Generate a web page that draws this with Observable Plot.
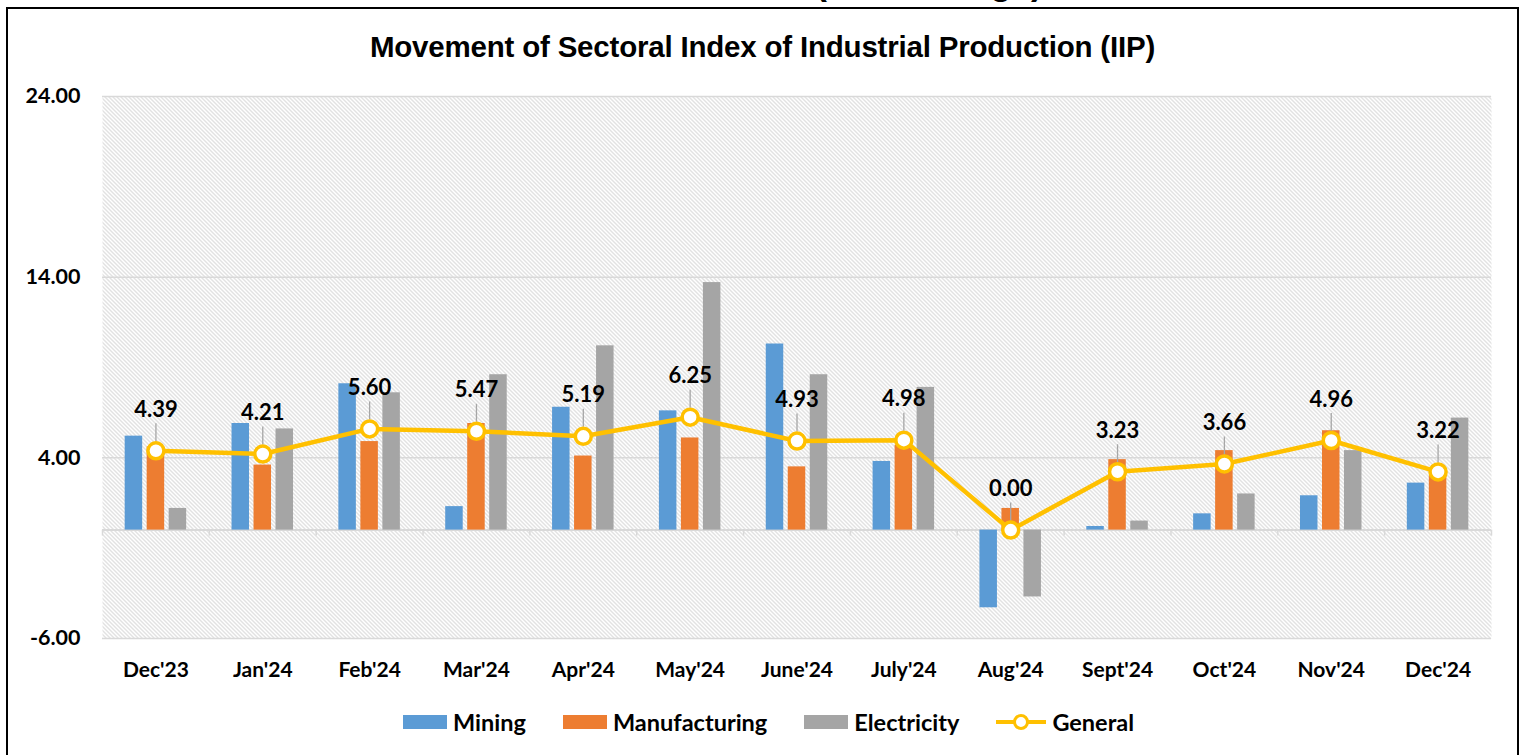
<!DOCTYPE html>
<html>
<head>
<meta charset="utf-8">
<script src="https://cdn.jsdelivr.net/npm/d3@7"></script>
<script src="https://cdn.jsdelivr.net/npm/@observablehq/plot@0.6"></script>
<style>
  html, body { margin: 0; padding: 0; background: #fff; }
  body { width: 1522px; height: 755px; overflow: hidden; position: relative; }
  #frame { position: absolute; left: 6px; top: 7px; width: 1513px; height: 820px; border: 2.5px solid #000; box-sizing: border-box; }
  #toptext { position: absolute; left: 929px; top: -35px; transform: translateX(-50%); font: bold 35px "Liberation Sans", Arial, sans-serif; line-height: 1; white-space: nowrap; color: #000; }
  #title { position: absolute; left: 0; width: 1525px; top: 31px; text-align: center; font: bold 29.5px "Liberation Sans", Arial, sans-serif; line-height: 32px; color: #000; letter-spacing: -0.2px; }
  #chart { position: absolute; left: 0; top: 0; }
  #legend { position: absolute; left: 403px; top: 708px; height: 28px; display: flex; align-items: center; font: bold 23.5px Lato, sans-serif; color: #000; white-space: nowrap; }
  #legend .item { display: flex; align-items: center; margin-right: 37px; }
  #legend .sw { display: inline-block; width: 44px; height: 14px; margin-right: 6px; }
  #legend svg { margin-right: 6px; }
</style>
</head>
<body>
<div id="toptext">(in % change)</div>
<div id="frame"></div>
<div id="title">Movement of Sectoral Index of Industrial Production (IIP)</div>
<div id="chart"></div>
<div id="legend"></div>
<script>
// ---------- data ----------
const months = ["Dec'23", "Jan'24", "Feb'24", "Mar'24", "Apr'24", "May'24", "June'24", "July'24", "Aug'24", "Sept'24", "Oct'24", "Nov'24", "Dec'24"];
const mining = [5.2, 5.9, 8.1, 1.3, 6.8, 6.6, 10.3, 3.8, -4.3, 0.2, 0.9, 1.9, 2.6];
const manufacturing = [4.6, 3.6, 4.9, 5.9, 4.1, 5.1, 3.5, 4.7, 1.2, 3.9, 4.4, 5.5, 3.0];
const electricity = [1.2, 5.6, 7.6, 8.6, 10.2, 13.7, 8.6, 7.9, -3.7, 0.5, 2.0, 4.4, 6.2];
const general = [4.39, 4.21, 5.60, 5.47, 5.19, 6.25, 4.93, 4.98, 0.00, 3.23, 3.66, 4.96, 3.22];
const yTicks = [-6, 4, 14, 24];
const seriesNames = ["Mining", "Manufacturing", "Electricity", "General"];
const seriesColors = ["#5B9BD5", "#ED7D31", "#A5A5A5", "#FFC000"];

// ---------- table ----------
const rows = months.map((m, i) => ({
  month: m, mining: mining[i], manufacturing: manufacturing[i],
  electricity: electricity[i], general: general[i]
}));

// ---------- layout ----------
const W = 1522, H = 690, mL = 102, mR = 31, mT = 96, mB = 52;
const B = (W - mL - mR) / months.length;
const barW = 17.5, step = 22;
function insets(k) {
  const c = B / 2 + k * step;
  return { insetLeft: c - barW / 2, insetRight: B - (c + barW / 2) };
}
const grid = "#d9d9d9";

const plot = Plot.plot({
  width: W, height: H,
  marginLeft: mL, marginRight: mR, marginTop: mT, marginBottom: mB,
  style: { fontFamily: "Lato, sans-serif", fontSize: "21px", fontWeight: "bold", color: "#000", background: "transparent", overflow: "visible" },
  x: { type: "band", domain: months, padding: 0, round: false },
  y: { domain: [-6, 24] },
  marks: [
    Plot.frame({ fill: "url(#hatch)", stroke: "none" }),
    Plot.ruleY(yTicks, { stroke: grid, strokeWidth: 1.5 }),
    Plot.ruleY([0], { stroke: grid, strokeWidth: 2 }),
    Plot.ruleX(months, { x: d => d, y1: 0, y2: 0, dx: -B / 2, insetBottom: -6, stroke: grid, strokeWidth: 1.5 }),
    Plot.ruleX(months.slice(-1), { x: d => d, y1: 0, y2: 0, dx: B / 2, insetBottom: -6, stroke: grid, strokeWidth: 1.5 }),
    Plot.barY(rows, { x: "month", y: "mining", fill: seriesColors[0], ...insets(-1) }),
    Plot.barY(rows, { x: "month", y: "manufacturing", fill: seriesColors[1], ...insets(0) }),
    Plot.barY(rows, { x: "month", y: "electricity", fill: seriesColors[2], ...insets(1) }),
    Plot.line(rows, { x: "month", y: "general", stroke: seriesColors[3], strokeWidth: 4.5 }),
    Plot.ruleX(rows, { x: "month", y1: "general", y2: "general", insetTop: -27, insetBottom: 9, stroke: "#a6a6a6", strokeWidth: 1.3 }),
    Plot.dot(rows, { x: "month", y: "general", r: 8, fill: "#fff", stroke: seriesColors[3], strokeWidth: 3.5 }),
    Plot.text(rows, { x: "month", y: "general", text: d => d.general.toFixed(2), dy: -41, fontSize: 22, fontWeight: "bold", fill: "#000" }),
    Plot.axisY({ ticks: yTicks, tickFormat: d => d.toFixed(2), tickSize: 0, tickPadding: 22, fontSize: 21.5, label: null }),
    Plot.axisX({ tickSize: 0, tickPadding: 24, fontSize: 21, label: null })
  ]
});

// hatch pattern for the plot area (pixel diagonal, like a spreadsheet pattern fill)
const ns = "http://www.w3.org/2000/svg";
const defs = document.createElementNS(ns, "defs");
defs.innerHTML = '<pattern id="hatch" patternUnits="userSpaceOnUse" x="0" y="0" width="4" height="4">' +
  '<rect width="4" height="4" fill="#ffffff"/>' +
  '<rect x="0" y="0" width="1" height="1" fill="#c4c4c4"/>' +
  '<rect x="1" y="1" width="1" height="1" fill="#c4c4c4"/>' +
  '<rect x="2" y="2" width="1" height="1" fill="#c4c4c4"/>' +
  '<rect x="3" y="3" width="1" height="1" fill="#c4c4c4"/></pattern>';
plot.insertBefore(defs, plot.firstChild);
document.getElementById("chart").appendChild(plot);

// ---------- legend ----------
const legend = document.getElementById("legend");
seriesNames.forEach((name, i) => {
  const item = document.createElement("div");
  item.className = "item";
  if (i < 3) {
    const sw = document.createElement("span");
    sw.className = "sw";
    sw.style.background = seriesColors[i];
    item.appendChild(sw);
  } else {
    const s = document.createElementNS(ns, "svg");
    s.setAttribute("width", 50); s.setAttribute("height", 20);
    s.innerHTML = `<line x1="0" y1="10" x2="50" y2="10" stroke="${seriesColors[i]}" stroke-width="4"/>` +
      `<circle cx="25" cy="10" r="6.5" fill="#fff" stroke="${seriesColors[i]}" stroke-width="3"/>`;
    item.appendChild(s);
  }
  const t = document.createElement("span");
  t.textContent = name;
  item.appendChild(t);
  legend.appendChild(item);
});
</script>
</body>
</html>
